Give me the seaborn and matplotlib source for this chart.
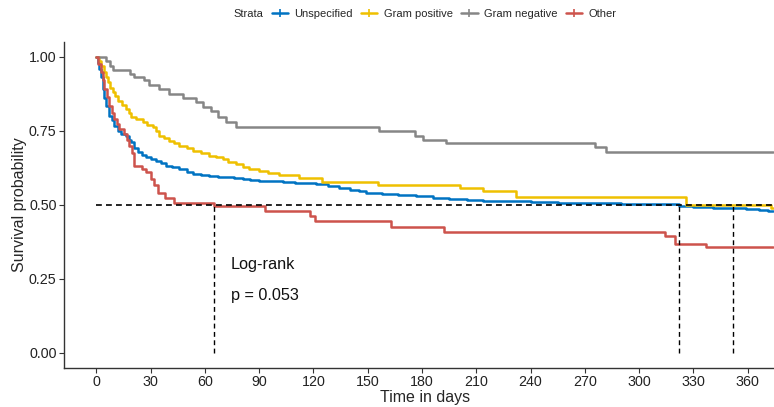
import numpy as np
import pandas as pd
import matplotlib
matplotlib.use("Agg")
import matplotlib.pyplot as plt
from matplotlib.lines import Line2D
import seaborn as sns

# Kaplan-Meier step points (time in days, survival)
unspec_t = [0, 0.7, 1.7, 2.5, 3.5, 4.5, 5.4, 7.2, 8.5, 10, 12, 13.7, 16.4, 18, 19.2, 21, 22.8,
            25, 27.4, 30, 33, 36, 38.5, 42, 45.9, 50, 53.3, 58, 62.5, 67, 71.7, 76, 80.9, 85,
            90, 96, 103, 110, 115, 121.5, 128, 134, 140, 145, 149, 158, 167, 176.8, 186, 195,
            205, 213.7, 223, 240, 255, 267, 290, 322, 330, 341, 350, 359, 366, 371, 374]
unspec_s = [1.0, 0.98, 0.959, 0.93, 0.892, 0.86, 0.835, 0.80, 0.785, 0.767, 0.75, 0.739, 0.733,
            0.72, 0.711, 0.69, 0.677, 0.668, 0.66, 0.654, 0.648, 0.64, 0.632, 0.626, 0.62, 0.61,
            0.603, 0.60, 0.598, 0.595, 0.592, 0.589, 0.586, 0.583, 0.581, 0.579, 0.577, 0.574,
            0.572, 0.569, 0.563, 0.557, 0.55, 0.545, 0.541, 0.536, 0.532, 0.528, 0.524, 0.521,
            0.517, 0.514, 0.511, 0.508, 0.506, 0.505, 0.503, 0.494, 0.492, 0.49, 0.488, 0.487,
            0.483, 0.479, 0.479]

gpos_t = [0, 1.5, 2.6, 4.4, 5.5, 6.3, 7.5, 9, 10.5, 11.8, 14, 16.4, 18, 19.2, 22, 25.6, 28, 31.2,
          33, 34.8, 37.5, 40.4, 43, 45.9, 50, 53.3, 58, 62.5, 66, 69.8, 73, 77.2, 81, 84.6, 90,
          95, 101, 112, 125, 155.6, 200.8, 213.7, 232, 326, 373, 374]
gpos_s = [1.0, 0.985, 0.97, 0.948, 0.93, 0.914, 0.895, 0.88, 0.866, 0.852, 0.838, 0.824, 0.81,
          0.796, 0.788, 0.779, 0.77, 0.762, 0.748, 0.733, 0.725, 0.716, 0.708, 0.699, 0.69, 0.682,
          0.674, 0.666, 0.66, 0.654, 0.646, 0.637, 0.628, 0.62, 0.613, 0.607, 0.60, 0.589, 0.578,
          0.567, 0.555, 0.547, 0.526, 0.50, 0.49, 0.49]

gneg_t = [0, 5.3, 7.5, 9.4, 18.6, 21, 26.5, 29.3, 34.8, 40, 47.7, 55, 58.8, 63.4, 67, 71.7, 77.2,
          156.5, 176, 180.5, 193.4, 275.4, 281.5, 374]
gneg_s = [1.0, 0.987, 0.97, 0.954, 0.942, 0.933, 0.92, 0.905, 0.89, 0.875, 0.86, 0.846, 0.83,
          0.815, 0.795, 0.78, 0.762, 0.748, 0.733, 0.72, 0.707, 0.694, 0.677, 0.677]

other_t = [0, 1, 2.6, 3.5, 4.4, 5.8, 7.2, 8.5, 10, 11.3, 12.7, 15.5, 17, 18.3, 19.5, 21, 25, 27.4,
           30.2, 32, 34, 38, 43, 65.3, 93, 118, 121, 163, 192, 314, 320, 337, 374]
other_s = [1.0, 0.975, 0.948, 0.92, 0.892, 0.865, 0.835, 0.81, 0.79, 0.773, 0.756, 0.739, 0.72,
           0.699, 0.675, 0.632, 0.62, 0.609, 0.586, 0.565, 0.541, 0.524, 0.507, 0.494, 0.479,
           0.462, 0.445, 0.425, 0.409, 0.394, 0.366, 0.357, 0.357]

strata = ["Unspecified", "Gram positive", "Gram negative", "Other"]
colors = ["#0073C2", "#EFC000", "#868686", "#CD534C"]
medians = [65, 322, 352]
x_ticks = list(range(0, 361, 30))
y_ticks = [0, 0.25, 0.5, 0.75, 1.0]

df = pd.concat([
    pd.DataFrame({"time": t, "surv": s, "strata": name})
    for name, t, s in zip(strata, [unspec_t, gpos_t, gneg_t, other_t],
                          [unspec_s, gpos_s, gneg_s, other_s])
])

sns.set_style("white")
plt.rcParams["font.family"] = ["Liberation Sans", "DejaVu Sans"]

fig = plt.figure(figsize=(7.74, 4.07), dpi=100)
ax = fig.add_axes([0.083, 0.097, 0.917, 0.80])

sns.lineplot(data=df, x="time", y="surv", hue="strata", hue_order=strata,
             palette=colors, estimator=None, sort=False, drawstyle="steps-post",
             linewidth=1.8, legend=False, ax=ax)

# median survival lines
ax.plot([0, 374], [0.5, 0.5], ls=(0, (3.5, 2.5)), color="black", lw=1.2, zorder=5)
for m in medians:
    ax.plot([m, m], [0, 0.5], ls=(0, (3.5, 2.5)), color="black", lw=1.0, zorder=5)

ax.text(74.5, 0.298, "Log-rank", fontsize=11.7, va="center", ha="left", color="#111111")
ax.text(74.5, 0.195, "p = 0.053", fontsize=11.7, va="center", ha="left", color="#111111")

ax.set_xlim(-17.7, 374.5)
ax.set_ylim(-0.05, 1.05)
ax.set_xticks(x_ticks)
ax.set_xticklabels([str(v) for v in x_ticks])
ax.set_yticks(y_ticks)
ax.set_yticklabels([f"{v:.2f}" for v in y_ticks])
ax.tick_params(axis="both", direction="out", length=3.5, width=0.8, color="#333333",
               labelsize=10.3, labelcolor="#222222", pad=2, left=True, bottom=True)
ax.set_xlabel("Time in days", fontsize=11.5)
ax.xaxis.set_label_coords(0.508, -0.068)
ax.set_ylabel("Survival probability", fontsize=11.5, labelpad=1.5)
for side in ["top", "right"]:
    ax.spines[side].set_visible(False)
for side in ["left", "bottom"]:
    ax.spines[side].set_color("#333333")
    ax.spines[side].set_linewidth(1.0)

handles = [Line2D([0], [0], color=c, lw=1.8, marker="|", markersize=6, markeredgewidth=1.2)
           for c in colors]
leg = fig.legend(handles, strata, loc="center", bbox_to_anchor=(0.574, 0.966), ncol=4,
                 frameon=False, fontsize=8, handlelength=1.45, handletextpad=0.6,
                 columnspacing=0.75, borderpad=0, borderaxespad=0)
fig.text(233 / 774, 0.966, "Strata", fontsize=8, va="center", ha="left")

fig.savefig("out.png", dpi=100)
